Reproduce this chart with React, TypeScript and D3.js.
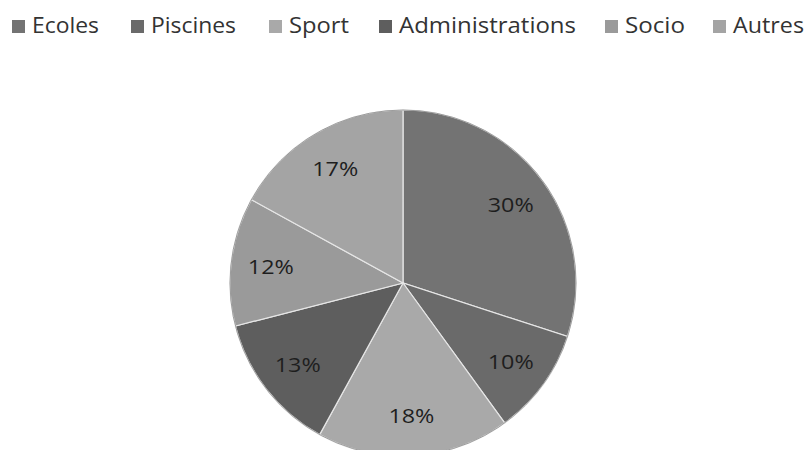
import React from "react";
import * as d3 from "d3";

const categories = ["Ecoles", "Piscines", "Sport", "Administrations", "Socio", "Autres"];
const values = [30, 10, 18, 13, 12, 17];
const colors = ["#737373", "#6a6a6a", "#a9a9a9", "#5e5e5e", "#9a9a9a", "#a4a4a4"];
const legendX = [12, 131, 269, 379, 605, 713];
const legendTextW = [67, 85, 60, 177, 60, 71];

const W = 806;
const H = 450;
const cx = 403;
const cy = 283;
const R = 173;

export default function App() {
  const pie = d3.pie<number>().sort(null).value((d) => d);
  const arcs = pie(values);
  const arc = d3.arc<d3.PieArcDatum<number>>().innerRadius(0).outerRadius(R);
  const labelArc = d3.arc<d3.PieArcDatum<number>>().innerRadius(R * 0.77).outerRadius(R * 0.77);
  const font = "'Open Sans', 'DejaVu Sans', sans-serif";
  return (
    <div style={{ position: "fixed", left: 0, top: 0 }}>
      <svg width={W} height={H} style={{ display: "block", background: "#fff" }}>
        <g>
          {categories.map((c, i) => (
            <g key={c}>
              <rect x={legendX[i]} y={20} width={13} height={13} fill={colors[i]} />
              <text
                x={legendX[i] + 20}
                y={33}
                fontFamily={font}
                fontSize={21}
                fill="#333"
                textLength={legendTextW[i]}
                lengthAdjust="spacingAndGlyphs"
              >
                {c}
              </text>
            </g>
          ))}
        </g>
        <g transform={`translate(${cx},${cy})`}>
          {arcs.map((a, i) => (
            <path key={i} d={arc(a) || ""} fill={colors[i]} stroke="#e6e6e6" strokeWidth={1.2} />
          ))}
          <circle r={R} fill="none" stroke="#8a8a8a" strokeWidth={0.8} />
          {arcs.map((a, i) => {
            const [x, y] = labelArc.centroid(a);
            return (
              <text
                key={"l" + i}
                x={x}
                y={y}
                textAnchor="middle"
                dominantBaseline="central"
                fontFamily={font}
                fontSize={20}
                fill="#1e1e1e"
                textLength={46}
                lengthAdjust="spacingAndGlyphs"
              >
                {values[i]}%
              </text>
            );
          })}
        </g>
      </svg>
    </div>
  );
}
